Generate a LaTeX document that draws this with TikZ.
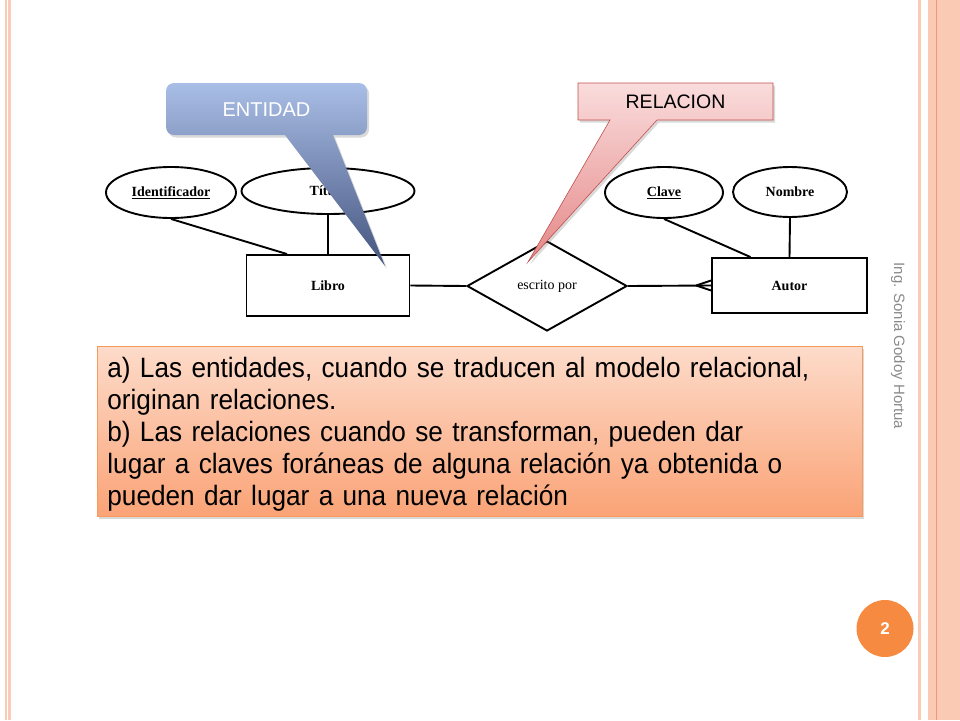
\documentclass[tikz,border=0pt]{standalone}
\usepackage{fontspec}
\setmainfont{Liberation Serif}
\newfontfamily\arial{Liberation Sans}
\newfontfamily\arialn[FakeStretch=0.935]{Liberation Sans}
\usetikzlibrary{shapes.geometric,shadows,positioning}
\definecolor{franja}{HTML}{FBCAB5}
\definecolor{franjaosc}{HTML}{EE9A6E}
\definecolor{naranja}{HTML}{F68A41}
\definecolor{cajaborde}{HTML}{F79A5C}
\definecolor{rojo}{HTML}{C0504D}
\definecolor{firmagris}{HTML}{8A8A8A}
\tikzset{
  atributo/.style={draw, ellipse, line width=1.9pt, inner sep=0pt, font=\bfseries\fontsize{14}{16}\selectfont},
  tabla/.style={draw, rectangle, line width=1.9pt, inner sep=0pt, font=\bfseries\fontsize{14}{16}\selectfont},
  rombo/.style={draw, diamond, line width=1.9pt, inner sep=0pt, minimum width=160pt, minimum height=90pt, font=\fontsize{14}{16}\selectfont},
  linea/.style={line width=1.9pt},
  sombra/.style={drop shadow={opacity=0.3, shadow xshift=2pt, shadow yshift=-2.5pt}}
}
\begin{document}
\begin{tikzpicture}[x=1pt,y=-1pt]
\useasboundingbox (0,0) rectangle (960,720);
% franjas del borde
\fill[franja] (5,0) rectangle (6.5,720);
\fill[franja] (8,0) rectangle (11,720);
\fill[franja] (918,0) rectangle (921,720);
\fill[franja] (928,0) rectangle (960,720);
\draw[franjaosc, line width=1pt] (936.5,0) -- (936.5,720);

% diagrama E-R
\node[atributo, minimum width=130pt, minimum height=51pt] (ident) at (171,192.5) {\underline{Identificador}};
\node[atributo, minimum width=173pt, minimum height=46pt] (titulo) at (328,191) {Título};
\node[tabla, minimum width=163pt, minimum height=61pt] (libro) at (328,285.5) {Libro};
\node[rombo] (escrito) at (547,286) {escrito por};
\node[tabla, minimum width=155pt, minimum height=55pt] (autor) at (789.5,285.5) {Autor};
\node[atributo, minimum width=118pt, minimum height=51pt] (clave) at (664,192.5) {\underline{Clave}};
\node[atributo, minimum width=114pt, minimum height=50pt] (nombre) at (790,192) {Nombre};

\draw[linea] (ident.south) -- ([xshift=-41pt]libro.north);
\draw[linea] (titulo.south) -- (libro.north);
\draw[linea] (libro.east) -- (escrito.west);
\draw[linea] (escrito.east) -- (autor.west);
\coordinate[left=15pt of autor.west] (pata);
\draw[linea] (pata) -- ([yshift=5pt]autor.west) (pata) -- ([yshift=-5pt]autor.west);
\draw[linea] (clave.south) -- ([xshift=-39pt]autor.north);
\draw[linea] (nombre.south) -- (autor.north);

% globos
\path[top color={rgb,255:red,169;green,190;blue,230}, bottom color={rgb,255:red,68;green,84;blue,126}, sombra]
  (285,135) [rounded corners=8pt] -- (166,135) -- (166,83) -- (367,83) -- (367,135) [sharp corners] -- (333,135) -- (385,266) -- cycle;
\node[text=white, font=\arial\fontsize{20}{24}\selectfont] (globoE) at (266.5,110) {ENTIDAD};

\path[draw=rojo, line width=0.6pt, top color={rgb,255:red,250;green,220;blue,220}, bottom color={rgb,255:red,229;green,136;blue,136}, sombra]
  (578,83) -- (773,83) -- (773,120) -- (657,120) -- (528,262) -- (610,120) -- (578,120) -- cycle;
\node[font=\arial\fontsize{19.5}{22}\selectfont] (globoR) at (675.5,102) {RELACION};

% texto
\node[anchor=north west, draw=cajaborde, line width=0.8pt, top color={rgb,255:red,253;green,219;blue,202}, bottom color={rgb,255:red,250;green,163;blue,118}, sombra,
  text width=745pt, minimum width=765pt, inner xsep=10pt, inner ysep=0pt, text height=31pt, text depth=139pt,
  align=left, font=\arialn\fontsize{28}{32}\selectfont] (notas) at (97,346)
  {a) Las entidades, cuando se traducen al modelo relacional,\\
   originan relaciones.\\
   b) Las relaciones cuando se transforman, pueden dar\\
   lugar a claves foráneas de alguna relación ya obtenida o\\
   pueden dar lugar a una nueva relación};

% pie
\node[rotate=-90, text=firmagris, font=\arial\fontsize{15}{18}\selectfont] (firma) at (898,346) {Ing. Sonia Godoy Hortua};
\node[circle, fill=naranja, minimum size=57pt, inner sep=0pt, text=white, font=\arial\bfseries\fontsize{17}{20}\selectfont] (pagina) at (885,628.5) {2};
\end{tikzpicture}
\end{document}
